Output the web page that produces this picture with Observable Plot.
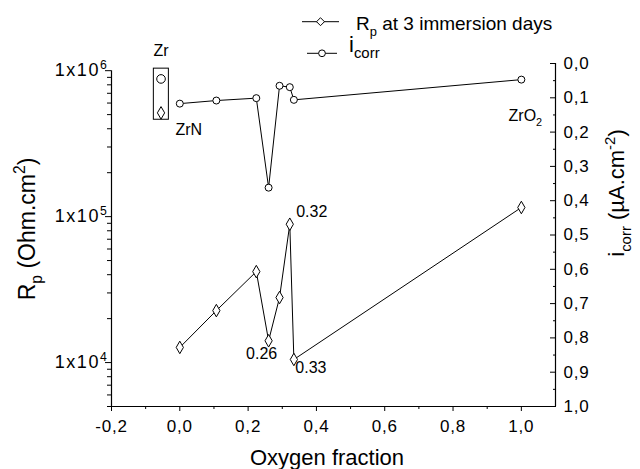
<!DOCTYPE html>
<html>
<head>
<meta charset="utf-8">
<script src="https://cdn.jsdelivr.net/npm/d3@7"></script>
<script src="https://cdn.jsdelivr.net/npm/@observablehq/plot@0.6"></script>
<style>
  body { margin: 0; background: #fff; }
  #chart { position: relative; width: 640px; height: 469px; background: #fff;
           font-family: "Liberation Sans", Arial, sans-serif; }
  #chart svg { position: absolute; left: 0; top: 0; overflow: visible; }
  #chart g[aria-label$="tick label"] text { letter-spacing: 0.8px; }
</style>
</head>
<body>
<div id="chart"></div>
<script>
// ---------- data ----------
const oxygenFraction = [0.0, 0.107, 0.224, 0.26, 0.292, 0.322, 0.334, 1.0];
const rpValues      = [12700, 22700, 42000, 14100, 27900, 88700, 10500, 115500]; // Ohm.cm2
const icorrValues   = [0.117, 0.108, 0.101, 0.362, 0.065, 0.069, 0.106, 0.047]; // µA.cm-2
const zrX = -0.055, zrIcorr = 0.045, zrRp = 514000;
const zrBox = [{x1: -0.076, x2: -0.032, y1: 0.015, y2: 0.164}];
const xTickValues = [-0.2, 0.0, 0.2, 0.4, 0.6, 0.8, 1.0];
const xMinorValues = [-0.1, 0.1, 0.3, 0.5, 0.7, 0.9];
const rpTickValues = [1e4, 1e5, 1e6];
const rpMinorValues = [5e3, 6e3, 7e3, 8e3, 9e3, 2e4, 3e4, 4e4, 5e4, 6e4, 7e4, 8e4, 9e4,
                       2e5, 3e5, 4e5, 5e5, 6e5, 7e5, 8e5, 9e5];
const icTickValues = [0.0, 0.1, 0.2, 0.3, 0.4, 0.5, 0.6, 0.7, 0.8, 0.9, 1.0];
const icMinorValues = [0.05, 0.15, 0.25, 0.35, 0.45, 0.55, 0.65, 0.75, 0.85, 0.95];

const rpData = oxygenFraction.map((x, i) => ({x, rp: rpValues[i]}));
const icData = oxygenFraction.map((x, i) => ({x, ic: icorrValues[i]}));

// ---------- layout ----------
const FONT = '"Liberation Sans", Arial, sans-serif';
const W = 640, H = 469;
const margins = {marginLeft: 111, marginRight: 85, marginTop: 63, marginBottom: 63};
const dec = d => d.toFixed(1).replace(".", ",");
const base = {width: W, height: H, ...margins,
  style: {background: "transparent", fontFamily: FONT, color: "#000", overflow: "visible"}};

// rich text: ^{..} superscript, _{..} subscript
function rich(node, fs) {
  const t = node.textContent;
  if (!/[\^_]\{/.test(t)) return;
  while (node.firstChild) node.removeChild(node.firstChild);
  const re = /([\^_])\{([^}]*)\}|([^\^_]+)/g;
  let m, cur = 0;
  while ((m = re.exec(t))) {
    const ts = document.createElementNS("http://www.w3.org/2000/svg", "tspan");
    let target = 0, txt, size = null;
    if (m[3] !== undefined) txt = m[3];
    else { txt = m[2]; size = fs * 0.68; target = m[1] === "^" ? -fs * 0.42 : fs * 0.3; }
    ts.setAttribute("dy", target - cur);
    cur = target;
    if (size) ts.setAttribute("font-size", size);
    ts.textContent = txt;
    node.appendChild(ts);
  }
}

// ---------- Rp plot (left log axis) ----------
const p1 = Plot.plot({
  ...base,
  x: {domain: [-0.2, 1.1]},
  y: {type: "log", domain: [5000, 1.12e6]},
  marks: [
    Plot.ruleY([5000], {stroke: "#000", strokeWidth: 1.2}),
    Plot.ruleX([-0.2], {y1: 5000, y2: 1e6, stroke: "#000", strokeWidth: 1.2}),
    Plot.axisX(xTickValues, {tickSize: 5, tickPadding: 8, tickFormat: dec, label: null, fontSize: 17}),
    Plot.axisX(xMinorValues, {tickSize: 3, fill: "none", label: null}),
    Plot.axisY(rpTickValues, {anchor: "left", tickSize: 6, tickPadding: -3, fontSize: 18,
      tickFormat: d => "1x10^{" + Math.round(Math.log10(d)) + "}", label: null}),
    Plot.axisY(rpMinorValues, {anchor: "left", tickSize: 4, fill: "none", label: null}),
    Plot.line(rpData, {x: "x", y: "rp", stroke: "#000", strokeWidth: 1}),
    Plot.dot(rpData, {x: "x", y: "rp", symbol: "diamond", r: 3.8, stroke: "#000", fill: "#fff", strokeWidth: 1}),
    Plot.dot([{x: zrX, rp: zrRp}], {x: "x", y: "rp", symbol: "diamond", r: 3.8, stroke: "#000", fill: "#fff", strokeWidth: 1}),
    Plot.text([rpData[5]], {x: "x", y: "rp", text: () => "0.32", dx: 22, dy: -12, fontSize: 16}),
    Plot.text([rpData[3]], {x: "x", y: "rp", text: () => "0.26", dx: -7, dy: 13, fontSize: 16}),
    Plot.text([rpData[6]], {x: "x", y: "rp", text: () => "0.33", dx: 17, dy: 8, fontSize: 16})
  ]
});

// ---------- icorr plot (right linear reversed axis) ----------
const p2 = Plot.plot({
  ...base,
  x: {domain: [-0.2, 1.1], axis: null},
  y: {domain: [0, 1], reverse: true},
  marks: [
    Plot.ruleX([1.1], {stroke: "#000", strokeWidth: 1.2}),
    Plot.axisY(icTickValues, {anchor: "right", tickSize: -6, tickPadding: 14, fontSize: 17, tickFormat: dec, label: null}),
    Plot.axisY(icMinorValues, {anchor: "right", tickSize: -3, fill: "none", label: null}),
    Plot.rect(zrBox, {x1: "x1", x2: "x2", y1: "y1", y2: "y2", stroke: "#000", fill: "none", strokeWidth: 1}),
    Plot.line(icData, {x: "x", y: "ic", stroke: "#000", strokeWidth: 1}),
    Plot.dot(icData, {x: "x", y: "ic", r: 3.5, stroke: "#000", fill: "#fff", strokeWidth: 1}),
    Plot.dot([{x: zrX, ic: zrIcorr}], {x: "x", y: "ic", r: 4.3, stroke: "#000", fill: "#fff", strokeWidth: 1}),
    Plot.text([{x: zrX, ic: zrIcorr}], {x: "x", y: "ic", text: () => "Zr", dy: -28, fontSize: 16}),
    Plot.text([icData[0]], {x: "x", y: "ic", text: () => "ZrN", dx: 9, dy: 26, fontSize: 16}),
    Plot.text([icData[7]], {x: "x", y: "ic", text: () => "ZrO_{2}", dx: 4, dy: 36, fontSize: 16})
  ]
});

const chart = document.getElementById("chart");
chart.appendChild(p1);
chart.appendChild(p2);

d3.select(p1).selectAll('g[aria-label="y-axis tick label"] text').style("letter-spacing", "1.6px");
d3.select(p1).selectAll("text").each(function() { rich(this, 18); });
d3.select(p2).selectAll("text").each(function() { rich(this, 16); });

// ---------- legend & axis titles ----------
const ov = d3.select(chart).append("svg").attr("width", W).attr("height", H)
  .style("font-family", FONT).style("pointer-events", "none");

const legendRows = [
  {label: "R_{p} at 3 immersion days", symbol: d3.symbolDiamond2, fs: 19},
  {label: "i_{corr}", symbol: d3.symbolCircle, fs: 22}
];
const legendY = [21.7, 53.3];
legendRows.forEach((row, i) => {
  const y = legendY[i];
  const g = ov.append("g");
  const x0 = i === 0 ? 302 : 307, x1 = i === 0 ? 339 : 337, cx = (x0 + x1) / 2;
  g.append("line").attr("x1", x0).attr("x2", x1).attr("y1", y).attr("y2", y)
    .attr("stroke", "#000").attr("stroke-width", 1);
  g.append("path").attr("transform", `translate(${cx},${y})`)
    .attr("d", d3.symbol(row.symbol, i === 0 ? 40 : 36)())
    .attr("fill", "#fff").attr("stroke", "#000").attr("stroke-width", 1);
  const t = g.append("text").attr("x", i === 0 ? 356 : 349).attr("y", i === 0 ? 30 : 51.5)
    .attr("font-size", row.fs).attr("fill", "#000").text(row.label);
  rich(t.node(), row.fs);
});

const titles = [
  {text: "R_{p} (Ohm.cm^{2})", x: 35, y: 229, rot: -90, fs: 23},
  {text: "i_{corr} (µA.cm^{-2})", x: 624, y: 193, rot: -90, fs: 22},
  {text: "Oxygen fraction", x: 327, y: 465, rot: 0, fs: 22}
];
titles.forEach(d => {
  const t = ov.append("text")
    .attr("transform", `translate(${d.x},${d.y}) rotate(${d.rot})`)
    .attr("text-anchor", "middle").attr("font-size", d.fs).attr("fill", "#000").text(d.text);
  rich(t.node(), d.fs);
});
</script>
</body>
</html>
